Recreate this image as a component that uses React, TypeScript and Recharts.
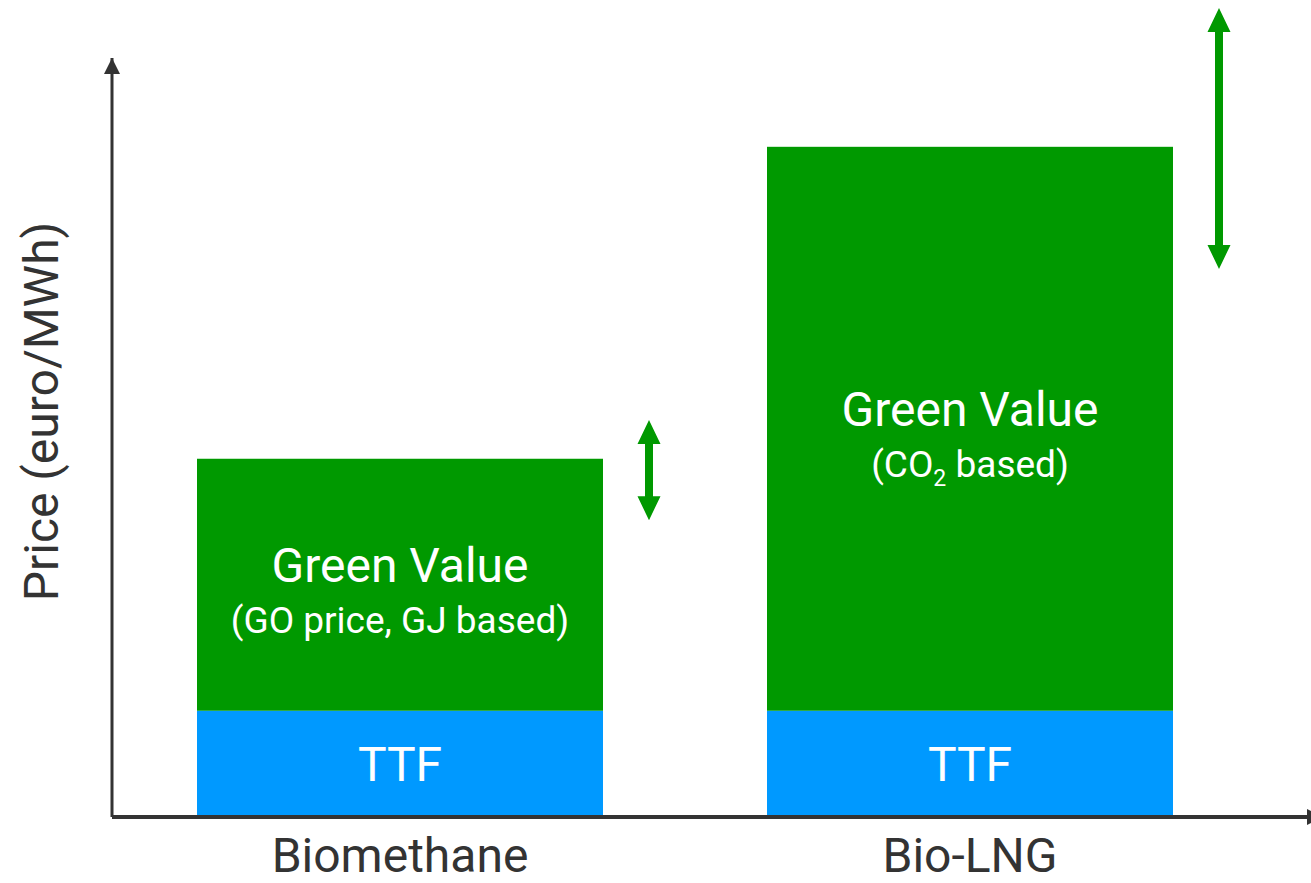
import React from 'react';
import { BarChart, Bar, XAxis, YAxis, LabelList } from 'recharts';

// values (euro/MWh, arbitrary scale 0-100)
const categories = ['Biomethane', 'Bio-LNG'];
const ttfValues = [14, 14];
const greenValues = [33.2, 74.3];
const greenRangeLow = [39.1, 72.2];
const greenRangeHigh = [52.3, 106.6];
const greenNotes = ['(GO price, GJ based)', '(CO2 based)'];

const GREEN = '#009900';
const BLUE = '#0099ff';
const AXIS = '#333333';

const data = categories.map((name, i) => ({
  name,
  ttf: ttfValues[i],
  green: greenValues[i],
  low: greenRangeLow[i],
  high: greenRangeHigh[i],
  note: greenNotes[i],
  ttfLabel: 'TTF',
}));

// "CO2" gets a real subscript
const renderNote = (note: string) => {
  const m = note.match(/^(.*CO)2(.*)$/);
  if (!m) return note;
  return [
    <tspan key="a">{m[1]}</tspan>,
    <tspan key="b" fontSize={23} dy={9}>2</tspan>,
    <tspan key="c" dy={-9}>{m[2]}</tspan>,
  ];
};

const doubleArrow = (cx: number, top: number, bottom: number) => {
  const s = 4, hw = 11.5, hh = 24;
  return `M${cx},${top} L${cx + hw},${top + hh} L${cx + s},${top + hh} L${cx + s},${bottom - hh} L${cx + hw},${bottom - hh} L${cx},${bottom} L${cx - hw},${bottom - hh} L${cx - s},${bottom - hh} L${cx - s},${top + hh} L${cx - hw},${top + hh} Z`;
};

const GreenShape = (props: any) => {
  const { x, y, width, height, payload } = props;
  const unit = height / payload.green;
  const zero = y + height + payload.ttf * unit;
  const toY = (v: number) => zero - v * unit;
  const cx = x + width / 2;
  const cy = y + height / 2;
  return (
    <g>
      <rect x={x} y={y} width={width} height={height} fill={GREEN} />
      <text x={cx} y={cy - 3} textAnchor="middle" fill="#fff" fontSize={48}>Green Value</text>
      <text x={cx} y={cy + 48} textAnchor="middle" fill="#fff" fontSize={37}>{renderNote(payload.note)}</text>
      <path d={doubleArrow(x + width + 46, toY(payload.high), toY(payload.low))} fill={GREEN} />
    </g>
  );
};

const YLabel = (props: any) => {
  const { viewBox } = props;
  const lx = viewBox.x + 58;
  const ly = viewBox.y + viewBox.height / 2 - 26;
  return (
    <text x={lx} y={ly} transform={`rotate(-90, ${lx}, ${ly})`} textAnchor="middle" fill={AXIS} fontSize={48}>
      Price (euro/MWh)
    </text>
  );
};

const App: React.FC = () => {
  return (
    <div style={{ position: 'absolute', left: 0, top: 0, fontFamily: 'Roboto, sans-serif' }}>
      <BarChart width={1311} height={883} data={data} margin={{ top: 58, right: 0, bottom: 0, left: 0 }}>
        <defs>
          <marker id="arrowY" viewBox="0 0 16 16" refX={16} refY={8} markerWidth={16} markerHeight={16} markerUnits="userSpaceOnUse" orient="auto-start-reverse">
            <path d="M0,0 L16,8 L0,16 Z" fill={AXIS} />
          </marker>
          <marker id="arrowX" viewBox="0 0 16 16" refX={4} refY={8} markerWidth={16} markerHeight={16} markerUnits="userSpaceOnUse" orient="auto">
            <path d="M0,0 L16,8 L0,16 Z" fill={AXIS} />
          </marker>
        </defs>
        <XAxis
          dataKey="name"
          height={66}
          interval={0}
          padding={{ left: 3, right: 56 }}
          tickLine={false}
          tickSize={0}
          tickMargin={21}
          tick={{ fontSize: 48, fill: AXIS }}
          axisLine={{ stroke: AXIS, strokeWidth: 4, markerEnd: 'url(#arrowX)' } as any}
        />
        <YAxis
          width={112}
          domain={[0, 100]}
          tick={false}
          tickLine={false}
          axisLine={{ stroke: AXIS, strokeWidth: 3, markerStart: 'url(#arrowY)' } as any}
          label={{ content: YLabel } as any}
        />
        <Bar dataKey="ttf" stackId="a" fill={BLUE} barSize={406} isAnimationActive={false}>
          <LabelList dataKey="ttfLabel" position="center" fill="#fff" fontSize={48} />
        </Bar>
        <Bar dataKey="green" stackId="a" fill={GREEN} barSize={406} shape={GreenShape} isAnimationActive={false} />
      </BarChart>
    </div>
  );
};

export default App;
